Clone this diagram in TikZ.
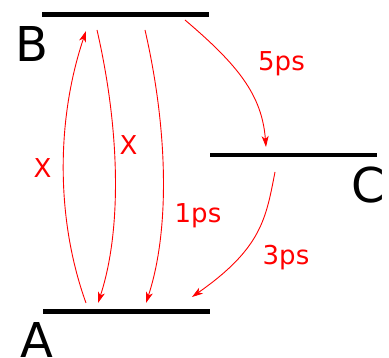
\documentclass[tikz,border=0pt]{standalone}
\usepackage{fontspec}
\setmainfont{DejaVu Sans}
\usetikzlibrary{arrows.meta}
\begin{document}
\begin{tikzpicture}[x=1pt,y=-1pt,
  level/.style={line width=4.2pt},
  trans/.style={red,line width=0.9pt,-{Stealth[length=11pt,width=7pt,inset=3pt]}},
  rlabel/.style={red,font=\fontsize{26}{26}\selectfont,anchor=base,inner sep=0pt},
  big/.style={font=\fontsize{48}{48}\selectfont,anchor=base,inner sep=0pt}]
\useasboundingbox (0,0) rectangle (389,358);
% levels
\coordinate (Bl) at (42,14.5); \coordinate (Br) at (209,14.5);
\coordinate (Cl) at (210,155); \coordinate (Cr) at (377,155);
\coordinate (Al) at (43,311.5); \coordinate (Ar) at (210,311.5);
\draw[level] (Bl) -- (Br);
\draw[level] (Cl) -- (Cr);
\draw[level] (Al) -- (Ar);
\node[big] (B) at (31.5,62) {B};
\node[big] (C) at (368,203) {C};
\node[big] (A) at (36.5,358) {A};
% endpoints
\coordinate (a1) at (86,303); \coordinate (b1) at (86,31);
\coordinate (b2) at (97,30);  \coordinate (a2) at (98,303);
\coordinate (b3) at (145,30); \coordinate (a3) at (146,303);
\coordinate (b4) at (185,20); \coordinate (c4) at (266,147);
\coordinate (c5) at (275,172); \coordinate (a5) at (192,297);
\draw[trans] (a1) .. controls (56,220) and (56,120) .. (b1);
\draw[trans] (b2) .. controls (120,130) and (122,230) .. (a2);
\draw[trans] (b3) .. controls (168,130) and (170,230) .. (a3);
\draw[trans] (b4) .. controls (238,65) and (262,95) .. (c4);
\draw[trans] (c5) .. controls (266,218) and (262,248) .. (a5);
% labels
\node[rlabel] (x1) at (42.5,178) {X};
\node[rlabel] (x2) at (128.5,155) {X};
\node[rlabel] (t1) at (198,223) {1ps};
\node[rlabel] (t5) at (281.5,71) {5ps};
\node[rlabel] (t3) at (286,265) {3ps};
\end{tikzpicture}
\end{document}
